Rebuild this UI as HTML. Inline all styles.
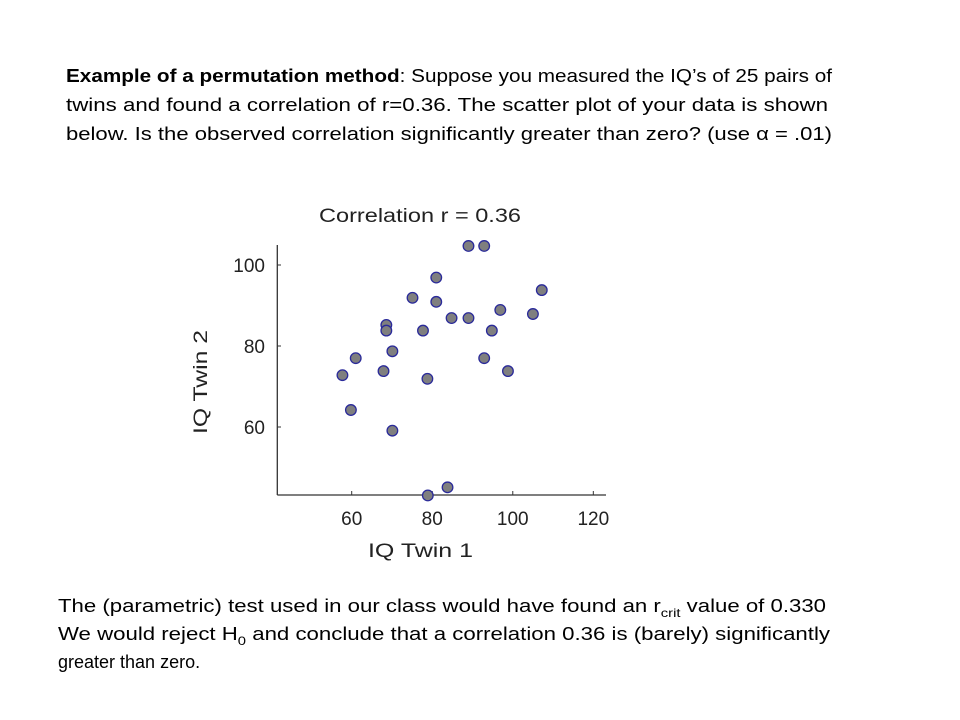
<!DOCTYPE html>
<html><head><meta charset="utf-8"><style>
html,body{margin:0;padding:0;background:#fff;}
svg{display:block;}
.t{font-family:"Liberation Sans",sans-serif;font-size:18px;fill:#000;}
.a{font-family:"Liberation Sans",sans-serif;font-size:19px;fill:#222;}
</style></head><body>
<svg id="s" width="960" height="720" viewBox="0 0 960 720">
<g>
<text class="t" x="66" y="82" textLength="766" lengthAdjust="spacingAndGlyphs"><tspan font-weight="bold">Example of a permutation method</tspan>: Suppose you measured the IQ’s of 25 pairs of</text>
<text class="t" x="66" y="111" textLength="762" lengthAdjust="spacingAndGlyphs">twins and found a correlation of r=0.36.  The scatter plot of your data is shown</text>
<text class="t" x="66" y="140" textLength="766" lengthAdjust="spacingAndGlyphs">below. Is the observed correlation significantly greater than zero? (use α = .01)</text>
</g>
<text class="a" x="319" y="222" textLength="202" lengthAdjust="spacingAndGlyphs">Correlation r =  0.36</text>
<g id="plot"></g>
<text class="a" x="368" y="557" textLength="105" lengthAdjust="spacingAndGlyphs">IQ Twin 1</text>
<text class="a" transform="translate(207,434) rotate(-90)" textLength="104" lengthAdjust="spacingAndGlyphs">IQ Twin 2</text>
<g>
<text class="t" x="58" y="612" textLength="768" lengthAdjust="spacingAndGlyphs">The (parametric) test used in our class would have found an r<tspan font-size="12" dy="5">crit</tspan><tspan dy="-5"> value of  0.330</tspan></text>
<text class="t" x="58" y="640" textLength="772" lengthAdjust="spacingAndGlyphs">We would reject H<tspan font-size="12" dy="5">0</tspan><tspan dy="-5"> and conclude that a correlation 0.36 is (barely) significantly</tspan></text>
<text class="t" x="58" y="668">greater than zero.</text>
</g>
</svg>
<script>
const xVals=[89.0,92.9,81.0,107.2,75.1,81.0,96.9,105.0,84.8,89.0,68.6,68.6,77.7,94.8,70.1,61.0,92.9,57.7,67.9,98.8,78.8,59.8,70.1,83.8,78.9];
const yVals=[104.7,104.7,96.9,93.8,91.9,90.9,88.9,87.9,86.9,86.9,85.2,83.8,83.8,83.8,78.7,77.0,77.0,72.8,73.8,73.8,71.9,64.2,59.1,45.1,43.1];
const xTicks=[60,80,100,120];
const yTicks=[60,80,100];
const NS="http://www.w3.org/2000/svg";
const g=document.getElementById('plot');
const sx=v=>351.7+(v-60)*4.027;
const sy=v=>265-(v-100)*4.05;
function mk(t,a){const e=document.createElementNS(NS,t);for(const k in a)e.setAttribute(k,a[k]);g.appendChild(e);return e;}
let e=mk('line',{x1:277.3,y1:245,x2:277.3,y2:495,stroke:'#333','stroke-width':1.3});


e=mk('line',{x1:277.3,y1:495,x2:606,y2:495,stroke:'#333','stroke-width':1.3});


xTicks.forEach(v=>{
 let l=mk('line',{x1:sx(v),y1:491,x2:sx(v),y2:495,stroke:'#333'});
 
 
 let t=mk('text',{x:sx(v),y:525,'text-anchor':'middle',class:'a'});t.textContent=v;
 
 
});
yTicks.forEach(v=>{
 let l=mk('line',{x1:277.3,y1:sy(v),x2:281,y2:sy(v),stroke:'#333'});
 
 
 let t=mk('text',{x:265,y:sy(v)+7,'text-anchor':'end',class:'a'});t.textContent=v;
 
 
});
xVals.forEach((xv,i)=>{
 let c=mk('circle',{cx:sx(xv),cy:sy(yVals[i]),r:5.3,fill:'#7f7f7f',stroke:'#2a2a9a','stroke-width':1.3});
 
 
});
</script>
</body></html>
